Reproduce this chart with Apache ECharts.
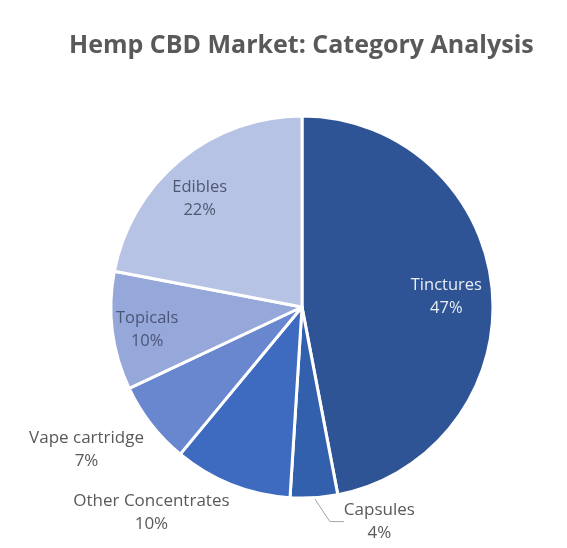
<!DOCTYPE html>
<html>
<head>
<meta charset="utf-8">
<script src="https://cdn.jsdelivr.net/npm/echarts@6/dist/echarts.min.js"></script>
<style>
  html, body { margin: 0; padding: 0; background: #ffffff; }
  #c { width: 567px; height: 548px; }
</style>
</head>
<body>
<div id="c"></div>
<script>
// ---- data ----
const categories = ['Tinctures', 'Capsules', 'Other Concentrates', 'Vape cartridge', 'Topicals', 'Edibles'];
const shares = [47, 4, 10, 7, 10, 22];
const insideLabelled = ['Tinctures', 'Topicals', 'Edibles'];
const leaderLined = ['Capsules'];

// ---- styles ----
const sliceColors = ['#2F5496', '#3360AD', '#3E6BC0', '#6887CE', '#96A7D9', '#B7C3E5'];
const insideTextColors = { 'Tinctures': '#E8ECF4', 'Topicals': '#4A5678', 'Edibles': '#4F5870' };
const labelNudge = {
  'Tinctures': [-3, 4], 'Edibles': [-8, 6], 'Topicals': [-8, 4],
  'Capsules': [10, 10], 'Other Concentrates': [22, 15], 'Vape cartridge': [23, 17]
};
const FONT = '"Open Sans", "Liberation Sans", sans-serif';
const centerPt = [302, 307];

function nudged(p) {
  const n = labelNudge[categories[p.dataIndex]] || [0, 0];
  const r = p.labelRect;
  return {
    x: r.x + r.width / 2 + n[0],
    y: r.y + r.height / 2 + n[1],
    align: 'center',
    verticalAlign: 'middle'
  };
}

const fmt = p => p.name + '\n' + p.value + '%';

const mainData = categories.map((name, i) => {
  const outside = insideLabelled.indexOf(name) < 0;
  return {
    name: name,
    value: shares[i],
    itemStyle: { color: sliceColors[i] },
    label: { show: outside },
    labelLine: { show: leaderLined.indexOf(name) >= 0 }
  };
});

const innerData = categories.map((name, i) => {
  const inside = insideLabelled.indexOf(name) >= 0;
  return {
    name: name,
    value: shares[i],
    label: { show: inside, color: insideTextColors[name] || '#404040' }
  };
});

const chart = echarts.init(document.getElementById('c'));
chart.setOption({
  backgroundColor: '#ffffff',
  animation: false,
  title: {
    text: 'Hemp CBD Market: Category Analysis',
    left: 64,
    top: 28,
    textStyle: { fontFamily: FONT, fontSize: 25, fontWeight: 'bold', color: '#595959' }
  },
  series: [
    {
      type: 'pie',
      center: centerPt,
      radius: 191,
      startAngle: 90,
      clockwise: true,
      avoidLabelOverlap: false,
      silent: true,
      itemStyle: { borderColor: '#ffffff', borderWidth: 3 },
      label: {
        position: 'outside',
        formatter: fmt,
        fontFamily: FONT,
        fontSize: 17,
        lineHeight: 23,
        color: '#595959'
      },
      labelLine: {
        length: 14,
        length2: 14,
        lineStyle: { color: '#A6A6A6', width: 1 }
      },
      labelLayout: nudged,
      data: mainData
    },
    {
      type: 'pie',
      center: centerPt,
      radius: [0, 290],
      startAngle: 90,
      clockwise: true,
      silent: true,
      z: 5,
      itemStyle: { color: 'rgba(0,0,0,0)', borderWidth: 0 },
      label: {
        position: 'inside',
        formatter: fmt,
        fontFamily: FONT,
        fontSize: 16.5,
        lineHeight: 23
      },
      labelLine: { show: false },
      labelLayout: nudged,
      emphasis: { disabled: true },
      data: innerData
    }
  ]
});
</script>
</body>
</html>
